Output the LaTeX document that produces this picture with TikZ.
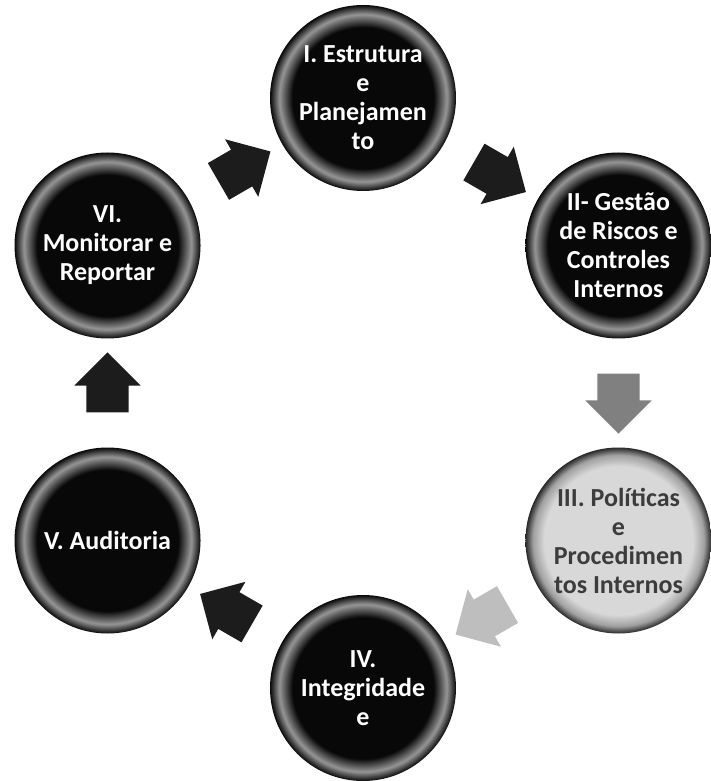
\documentclass[tikz,border=0pt]{standalone}
\usepackage{fontspec}
\setmainfont{Carlito}
\usetikzlibrary{shapes.arrows,calc}
\definecolor{DiscClr}{RGB}{8,8,8}
\definecolor{RimClr}{RGB}{150,150,150}
\definecolor{PaleClr}{RGB}{216,216,216}
\definecolor{PaleRimClr}{RGB}{160,160,160}
\definecolor{DarkArrowClr}{RGB}{28,28,28}
\definecolor{MidArrowClr}{RGB}{128,128,128}
\definecolor{PaleArrowClr}{RGB}{190,190,190}
\definecolor{OutlineClr}{RGB}{40,40,40}
\definecolor{PaleTextClr}{RGB}{60,60,60}
\pgfdeclareradialshading{DarkDisc}{\pgfpoint{0bp}{0bp}}{color(0bp)=(DiscClr); color(19bp)=(DiscClr); color(22.5bp)=(RimClr); color(25bp)=(DiscClr); color(50bp)=(DiscClr)}
\pgfdeclareradialshading{PaleDisc}{\pgfpoint{0bp}{0bp}}{color(0bp)=(PaleClr); color(20bp)=(PaleClr); color(23bp)=(PaleRimClr); color(25bp)=(OutlineClr); color(50bp)=(OutlineClr)}

\tikzset{
  disc/.style={circle,minimum size=186pt,inner sep=0pt,align=center,text=white,
    font=\bfseries\fontsize{26}{29}\selectfont,shade,shading=DarkDisc},
  pale disc/.style={disc,shading=PaleDisc,text=PaleTextClr},
  block arrow/.style={single arrow,draw=none,minimum height=60pt,inner xsep=0pt,
    inner ysep=21pt,single arrow head extend=12pt}
}

\begin{document}
\begin{tikzpicture}
\useasboundingbox (-363pt,-388pt) rectangle (348pt,393pt);

\node[disc] (I) at (90:295pt) {I. Estrutura\\e\\Planejamen\\to};
\node[disc] (II) at (30:295pt) {II- Gestão\\de Riscos e\\Controles\\Internos};
\node[pale disc] (III) at (-30:295pt) {III. Políticas\\e\\Procedimen\\tos Internos};
\node[disc] (IV) at (-90:295pt) {IV.\\Integridade\\e};
\node[disc] (V) at (-150:295pt) {V. Auditoria};
\node[disc] (VI) at (150:295pt) {VI.\\Monitorar e\\Reportar};

\node[block arrow,fill=DarkArrowClr,rotate=-30] (I-II) at ($(I)!.5!(II)$) {};
\node[block arrow,fill=MidArrowClr,rotate=-90] (II-III) at ($(II)!.5!(III)$) {};
\node[block arrow,fill=PaleArrowClr,rotate=-150] (III-IV) at ($(III)!.5!(IV)$) {};
\node[block arrow,fill=DarkArrowClr,rotate=150] (IV-V) at ($(IV)!.5!(V)$) {};
\node[block arrow,fill=DarkArrowClr,rotate=90] (V-VI) at ($(V)!.5!(VI)$) {};
\node[block arrow,fill=DarkArrowClr,rotate=30] (VI-I) at ($(VI)!.5!(I)$) {};

\end{tikzpicture}
\end{document}
